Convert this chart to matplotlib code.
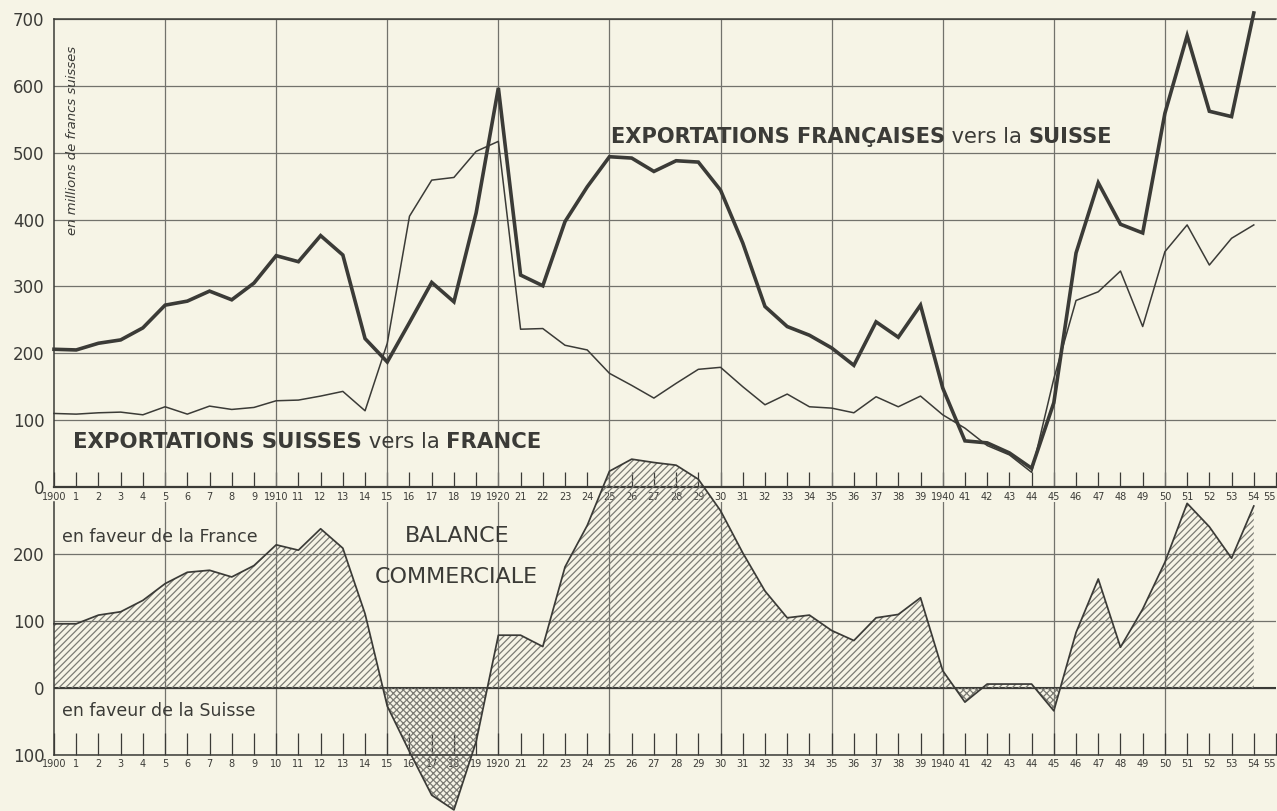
import matplotlib
matplotlib.use("Agg")
import matplotlib.pyplot as plt
import numpy as np

# ---------------- data ----------------
years = list(range(1900, 1955))

french_exports = [206, 205, 215, 220, 238, 272, 278, 293, 280, 305,
                  346, 337, 376, 347, 222, 187, 246, 306, 277, 410,
                  597, 317, 301, 397, 449, 494, 492, 472, 488, 486,
                  444, 365, 270, 240, 227, 208, 182, 247, 224, 272,
                  148, 69, 66, 51, 28, 126, 350, 455, 393, 380,
                  559, 675, 562, 554, 709]

swiss_exports = [110, 109, 111, 112, 108, 120, 109, 121, 116, 119,
                 129, 130, 136, 143, 114, 215, 405, 459, 463, 502,
                 517, 236, 237, 212, 205, 170, 152, 133, 155, 176,
                 179, 150, 123, 139, 120, 118, 111, 135, 120, 136,
                 108, 88, 62, 48, 22, 162, 279, 292, 323, 240,
                 352, 392, 332, 372, 392]

balance = [96, 96, 109, 114, 131, 156, 173, 176, 166, 183,
           214, 206, 238, 209, 111, -27, -95, -160, -182, -80,
           79, 79, 62, 181, 243, 324, 342, 337, 333, 312,
           265, 202, 145, 105, 109, 86, 71, 105, 110, 135,
           26, -21, 6, 6, 6, -34, 83, 163, 61, 118,
           188, 276, 241, 194, 272]

tick_years = list(range(1900, 1956))
top_tick_labels = ["1900", "1", "2", "3", "4", "5", "6", "7", "8", "9",
                   "1910", "11", "12", "13", "14", "15", "16", "17", "18", "19",
                   "1920", "21", "22", "23", "24", "25", "26", "27", "28", "29",
                   "30", "31", "32", "33", "34", "35", "36", "37", "38", "39",
                   "1940", "41", "42", "43", "44", "45", "46", "47", "48", "49",
                   "50", "51", "52", "53", "54", "55"]
bottom_tick_labels = ["1900", "1", "2", "3", "4", "5", "6", "7", "8", "9",
                      "10", "11", "12", "13", "14", "15", "16", "17", "18", "19",
                      "1920", "21", "22", "23", "24", "25", "26", "27", "28", "29",
                      "30", "31", "32", "33", "34", "35", "36", "37", "38", "39",
                      "1940", "41", "42", "43", "44", "45", "46", "47", "48", "49",
                      "50", "51", "52", "53", "54", "55"]
grid_years = list(range(1905, 1955, 5))
top_yticks = [0, 100, 200, 300, 400, 500, 600, 700]
top_ylabels = ["0", "100", "200", "300", "400", "500", "600", "700"]
bottom_yticks = [-100, 0, 100, 200]
bottom_ylabels = ["100", "0", "100", "200"]

# ---------------- style ----------------
BG = "#f6f4e6"
INK = "#3b3b37"
GRID = "#72726c"
HATCH = "#7c7c75"
plt.rcParams["font.family"] = ["DejaVu Sans"]
plt.rcParams["hatch.linewidth"] = 0.9
plt.rcParams["hatch.color"] = HATCH

W, H = 1277, 811
fig = plt.figure(figsize=(W / 100, H / 100), dpi=100, facecolor=BG)


def rect(l, t, r, b):
    return [l / W, 1 - b / H, (r - l) / W, (b - t) / H]


ax1 = fig.add_axes(rect(54, 19, 1276, 487))
ax2 = fig.add_axes(rect(54, 502, 1276, 755))
for ax in (ax1, ax2):
    ax.set_facecolor("none")
    ax.set_xlim(1900, 1955)
    for x in grid_years:
        ax.axvline(x, color=GRID, lw=0.9, zorder=1)
    ax.spines["right"].set_visible(False)
    for s in ax.spines.values():
        s.set_color(INK)
        s.set_linewidth(1.1)

# ---- top panel ----
ax1.set_ylim(0, 700)
ax1.set_yticks(top_yticks)
ax1.set_yticklabels(top_ylabels)
ax1.yaxis.grid(True, color=GRID, lw=0.9, zorder=1)
ax1.set_axisbelow(True)
ax1.spines["bottom"].set_linewidth(1.6)
ax1.tick_params(axis="y", length=0, pad=7, labelsize=12, labelcolor=INK)
ax1.set_xticks(tick_years)
ax1.set_xticklabels(top_tick_labels)
ax1.tick_params(axis="x", direction="in", length=11, width=0.9, color=INK,
                pad=3.5, labelsize=7, labelcolor=INK)

ax1.plot(years, swiss_exports, color=INK, lw=1.1, zorder=3, clip_on=False)
ax1.plot(years, french_exports, color=INK, lw=2.6, zorder=4, clip_on=False,
         solid_joinstyle="miter")

# ---- bottom panel ----
ax2.set_ylim(-100, 278)
ax2.spines["top"].set_visible(False)
ax2.set_yticks(bottom_yticks)
ax2.set_yticklabels(bottom_ylabels)
ax2.yaxis.grid(True, color=GRID, lw=0.9, zorder=1)
ax2.axhline(0, color=INK, lw=1.5, zorder=2)
ax2.tick_params(axis="y", length=0, pad=7, labelsize=12, labelcolor=INK)
ax2.set_xticks(tick_years)
ax2.set_xticklabels(bottom_tick_labels)
ax2.tick_params(axis="x", direction="in", length=16, width=0.9, color=INK,
                pad=3, labelsize=7, labelcolor=INK)

# last year label sits at the right edge: keep it inside the picture
for axx in (ax1, ax2):
    axx.get_xticklabels()[-1].set_horizontalalignment("right")

yrs = np.array(years, dtype=float)
bal = np.array(balance, dtype=float)
ax2.fill_between(yrs, bal, 0, where=bal >= 0, interpolate=True,
                 facecolor="none", edgecolor=HATCH, hatch="/////",
                 linewidth=0, zorder=2, clip_on=False)
ax2.fill_between(yrs, bal, 0, where=bal <= 0, interpolate=True,
                 facecolor="none", edgecolor=HATCH, hatch="xxxxx",
                 linewidth=0, zorder=2, clip_on=False)
ax2.plot(years, balance, color=INK, lw=1.25, zorder=4, clip_on=False)

# ---------------- texts ----------------
renderer = fig.canvas.get_renderer()


def chain(x_px, y_px, parts, size, target_w):
    # measure, then fit font size to the target width
    tmp = [fig.text(0, 0, s, fontsize=size, fontweight=w) for s, w in parts]
    total = sum(t.get_window_extent(renderer).width for t in tmp)
    for t in tmp:
        t.remove()
    size = size * target_w / total
    x = x_px
    for s, w in parts:
        t = fig.text(x / W, 1 - y_px / H, s, fontsize=size, fontweight=w,
                     va="baseline", ha="left", color=INK)
        x += t.get_window_extent(renderer).width


chain(611, 143, [("EXPORTATIONS FRANÇAISES", "bold"), (" vers la ", "normal"),
                 ("SUISSE", "bold")], 15, 502)
chain(73, 448, [("EXPORTATIONS SUISSES", "bold"), (" vers la ", "normal"),
                ("FRANCE", "bold")], 15, 468)

fig.text(72 / W, 1 - 140 / H, "en millions de francs suisses", rotation=90,
         style="italic", fontsize=9.5, color=INK, ha="center", va="center")
fig.text(457 / W, 1 - 536 / H, "BALANCE", fontsize=16, color=INK,
         ha="center", va="center")
fig.text(456 / W, 1 - 577 / H, "COMMERCIALE", fontsize=16, color=INK,
         ha="center", va="center")
fig.text(62 / W, 1 - 537 / H, "en faveur de la France", fontsize=12.5,
         color=INK, ha="left", va="center")
fig.text(62 / W, 1 - 711 / H, "en faveur de la Suisse", fontsize=12.5,
         color=INK, ha="left", va="center")

fig.savefig("out.png", dpi=100, facecolor=BG)
